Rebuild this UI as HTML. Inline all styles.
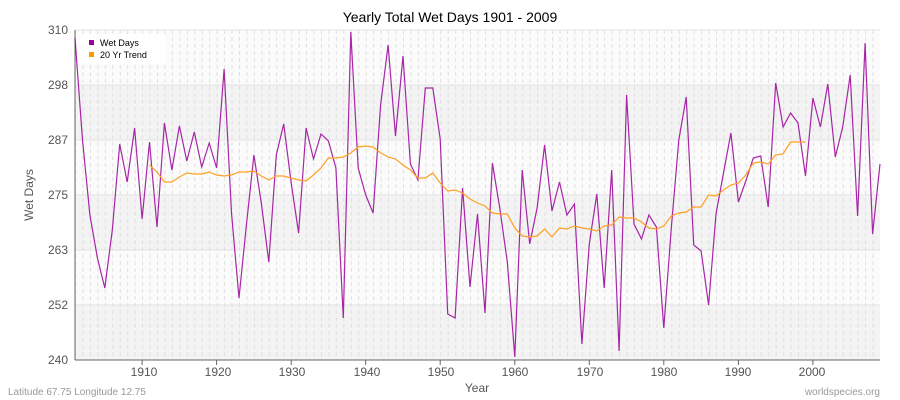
<!DOCTYPE html>
<html><head><meta charset="utf-8"><style>body{margin:0;background:#fff}svg{display:block;font-family:"Liberation Sans",sans-serif}</style></head><body>
<svg width="900" height="400" xmlns="http://www.w3.org/2000/svg">
<defs>
<pattern id="vg" patternUnits="userSpaceOnUse" x="75" y="30" width="7.4537" height="7">
<line x1="0.5" y1="0" x2="0.5" y2="4" stroke="#e0e0e0" stroke-width="1"/>
</pattern>
</defs>
<rect x="0" y="0" width="900" height="400" fill="#fff"/>
<rect x="75" y="30" width="805" height="330" fill="#fbfbfb"/>
<rect x="75" y="85" width="805" height="55" fill="#f3f3f3"/>
<rect x="75" y="195" width="805" height="55" fill="#f3f3f3"/>
<rect x="75" y="305" width="805" height="55" fill="#f3f3f3"/>
<rect x="75" y="30" width="805" height="330" fill="url(#vg)"/>
<g stroke="#e3e3e3" stroke-width="1">
<line x1="75" y1="85" x2="880" y2="85"/><line x1="75" y1="140" x2="880" y2="140"/><line x1="75" y1="195" x2="880" y2="195"/><line x1="75" y1="250" x2="880" y2="250"/><line x1="75" y1="305" x2="880" y2="305"/><line x1="75" y1="30" x2="880" y2="30"/>
</g>
<line x1="75" y1="30" x2="75" y2="360" stroke="#666"/>
<line x1="75" y1="360" x2="880" y2="360" stroke="#666"/>
<g font-size="12" fill="#555" text-anchor="end">
<text x="68" y="34">310</text><text x="68" y="89">298</text><text x="68" y="144">287</text><text x="68" y="199">275</text><text x="68" y="254">263</text><text x="68" y="309">252</text><text x="68" y="364">240</text>
</g>
<g font-size="12" fill="#555" text-anchor="middle">
<text x="144" y="376">1910</text><text x="218" y="376">1920</text><text x="292" y="376">1930</text><text x="367" y="376">1940</text><text x="441" y="376">1950</text><text x="515" y="376">1960</text><text x="590" y="376">1970</text><text x="664" y="376">1980</text><text x="738" y="376">1990</text><text x="812" y="376">2000</text>
</g>
<g stroke="#666">
<line x1="142.1" y1="360" x2="142.1" y2="365"/><line x1="216.6" y1="360" x2="216.6" y2="365"/><line x1="291.2" y1="360" x2="291.2" y2="365"/><line x1="365.7" y1="360" x2="365.7" y2="365"/><line x1="440.2" y1="360" x2="440.2" y2="365"/><line x1="514.8" y1="360" x2="514.8" y2="365"/><line x1="589.3" y1="360" x2="589.3" y2="365"/><line x1="663.8" y1="360" x2="663.8" y2="365"/><line x1="738.4" y1="360" x2="738.4" y2="365"/><line x1="812.9" y1="360" x2="812.9" y2="365"/>
</g>
<text x="450" y="22" font-size="14" text-anchor="middle" fill="#000">Yearly Total Wet Days 1901 - 2009</text>
<text x="33" y="195" font-size="12" fill="#555" text-anchor="middle" transform="rotate(-90 33 195)">Wet Days</text>
<text x="477" y="392" font-size="12" fill="#555" text-anchor="middle">Year</text>
<text x="8" y="395" font-size="10" fill="#999">Latitude 67.75 Longitude 12.75</text>
<text x="880" y="395" font-size="10" fill="#999" text-anchor="end">worldspecies.org</text>
<polyline fill="none" stroke="#990099" stroke-opacity="0.85" stroke-width="1.2" points="75.0,38 82.5,140 89.9,215 97.4,258 104.8,288 112.3,230 119.7,144 127.2,182 134.6,128 142.1,219 149.5,142 157.0,227 164.4,123 171.9,170 179.4,126 186.8,161 194.3,132 201.7,167 209.2,143 216.6,168 224.1,69 231.5,213 239.0,298 246.4,225 253.9,155 261.3,203 268.8,262 276.3,155 283.7,124 291.2,183 298.6,233 306.1,128 313.5,159 321.0,134 328.4,141 335.9,168 343.3,318 350.8,32 358.2,168 365.7,195 373.1,213 380.6,105 388.1,45 395.5,136 403.0,56 410.4,164 417.9,180 425.3,88 432.8,88 440.2,139 447.7,314 455.1,318 462.6,188 470.0,287 477.5,214 485.0,313 492.4,163 499.9,209 507.3,262 514.8,357 522.2,170 529.7,244 537.1,208 544.6,145 552.0,211 559.5,182 566.9,215 574.4,204 581.9,344 589.3,244 596.8,194 604.2,288 611.7,170 619.1,351 626.6,95 634.0,224 641.5,239 648.9,215 656.4,227 663.8,328 671.3,228 678.8,140 686.2,97 693.7,245 701.1,251 708.6,305 716.0,214 723.5,173 730.9,133 738.4,202 745.8,181 753.3,158 760.7,156 768.2,207 775.7,83 783.1,127 790.6,113 798.0,123 805.5,176 812.9,98 820.4,127 827.8,84 835.3,157 842.7,127 850.2,75 857.6,216 865.1,43 872.6,234 880.0,164"/>
<polyline fill="none" stroke="#ffa020" stroke-width="1.2" points="149.5,165 157.0,172 164.4,182 171.9,182 179.4,177 186.8,173 194.3,174 201.7,174 209.2,172 216.6,175 224.1,176 231.5,175 239.0,172 246.4,172 253.9,171 261.3,176 268.8,180 276.3,176 283.7,176 291.2,178 298.6,180 306.1,181 313.5,175 321.0,168 328.4,158 335.9,158 343.3,157 350.8,153 358.2,147 365.7,146 373.1,147 380.6,153 388.1,157 395.5,159 403.0,165 410.4,170 417.9,178 425.3,178 432.8,173 440.2,183 447.7,191 455.1,190 462.6,193 470.0,199 477.5,203 485.0,206 492.4,213 499.9,214 507.3,214 514.8,228 522.2,236 529.7,237 537.1,236 544.6,229 552.0,237 559.5,228 566.9,229 574.4,226 581.9,228 589.3,229 596.8,231 604.2,226 611.7,225 619.1,217 626.6,218 634.0,218 641.5,222 648.9,228 656.4,229 663.8,226 671.3,216 678.8,213 686.2,212 693.7,207 701.1,207 708.6,195 716.0,196 723.5,190 730.9,185 738.4,183 745.8,175 753.3,163 760.7,162 768.2,164 775.7,155 783.1,154 790.6,142 798.0,142 805.5,142"/>
<rect x="80" y="34" width="86" height="30" rx="4" fill="#fff" opacity="0.9"/>
<rect x="89" y="40" width="5" height="5" fill="#990099"/>
<text x="100" y="46" font-size="9" fill="#000">Wet Days</text>
<rect x="89" y="52" width="5" height="5" fill="#ff9900"/>
<text x="100" y="58" font-size="9" fill="#000">20 Yr Trend</text>
</svg>
</body></html>
